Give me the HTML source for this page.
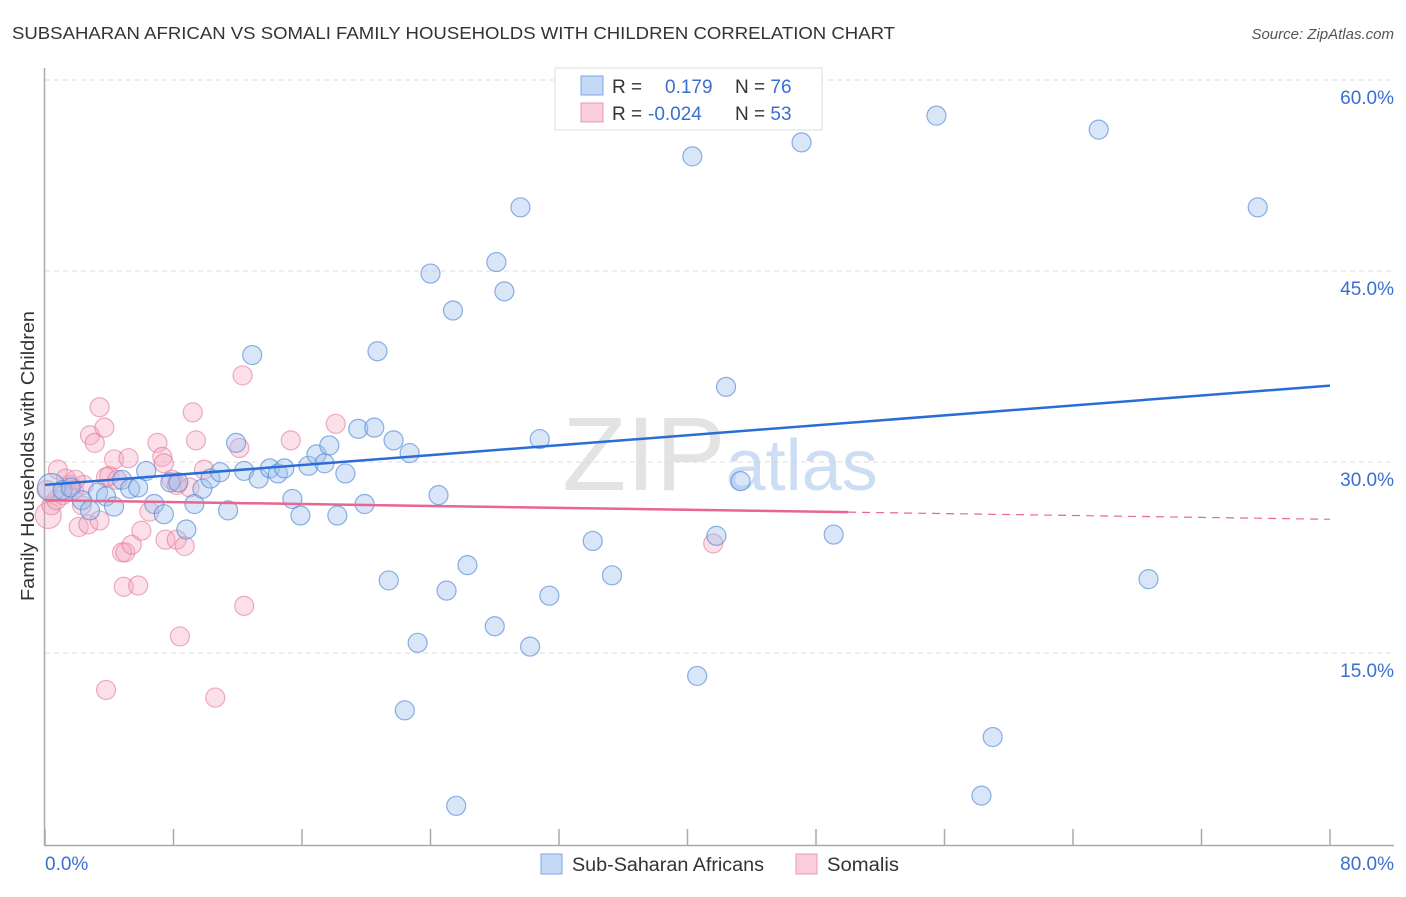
<!DOCTYPE html>
<html><head><meta charset="utf-8"><style>
body{margin:0;background:#fff;font-family:"Liberation Sans",sans-serif;}
svg text{font-family:"Liberation Sans",sans-serif;}
</style></head><body>
<svg id="chart" width="1406" height="892" xmlns="http://www.w3.org/2000/svg">
<text x="12" y="39" font-size="17.5" fill="#333" textLength="883" lengthAdjust="spacingAndGlyphs">SUBSAHARAN AFRICAN VS SOMALI FAMILY HOUSEHOLDS WITH CHILDREN CORRELATION CHART</text>
<text x="1394" y="39" font-size="15" fill="#555" text-anchor="end" font-style="italic">Source: ZipAtlas.com</text>
<g id="grid"></g>
<text x="720" y="490" font-size="105" text-anchor="middle" fill="#d8d8d8" font-family="Liberation Serif" opacity="0.7">ZIP<tspan fill="#b8cff0" font-family="Liberation Sans" font-size="72">atlas</tspan></text>
<line x1="44.5" y1="68" x2="44.5" y2="845" stroke="#aaa" stroke-width="1.5"/>
<line x1="44" y1="845.5" x2="1394" y2="845.5" stroke="#aaa" stroke-width="1.5"/>
<text transform="translate(34,456) rotate(-90)" font-size="18" fill="#333" text-anchor="middle" textLength="290" lengthAdjust="spacingAndGlyphs">Family Households with Children</text>
<text x="45" y="870" font-size="19" fill="#3a6fd0">0.0%</text>
<text x="1394" y="870" font-size="19" fill="#3a6fd0" text-anchor="end">80.0%</text>
<g id="pts"></g>
<g id="trends"></g>
<g>
<rect x="555" y="68" width="267" height="62" fill="#fff" stroke="#ddd"/>
<rect x="581" y="76" width="22" height="19" fill="#c5d9f5" stroke="#7aa5e6"/>
<rect x="581" y="103" width="22" height="19" fill="#f9cddb" stroke="#ea9ab4"/>
<text x="612" y="93" font-size="19" fill="#333">R = <tspan fill="#3a6fd0" x="665">0.179</tspan><tspan x="735" fill="#333">N = </tspan><tspan fill="#3a6fd0">76</tspan></text>
<text x="612" y="120" font-size="19" fill="#333">R = <tspan fill="#3a6fd0" x="648">-0.024</tspan><tspan x="735" fill="#333">N = </tspan><tspan fill="#3a6fd0">53</tspan></text>
</g>
<g>
<rect x="541" y="854" width="21" height="20" fill="#c5d9f5" stroke="#7aa5e6"/>
<text x="572" y="871" font-size="19" fill="#333" textLength="192" lengthAdjust="spacingAndGlyphs">Sub-Saharan Africans</text>
<rect x="796" y="854" width="21" height="20" fill="#f9cddb" stroke="#ea9ab4"/>
<text x="827" y="871" font-size="19" fill="#333" textLength="72" lengthAdjust="spacingAndGlyphs">Somalis</text>
</g>
</svg>
<script>
const yTicks=[15,30,45,60];
const yTickLabels=["15.0%","30.0%","45.0%","60.0%"];
const xTicks=[0,8,16,24,32,40,48,56,64,72,80];
const blueX=[0.4,1.1,1.6,2.3,2.8,3.3,3.8,4.3,4.8,5.3,5.8,6.3,6.8,7.4,7.8,8.3,8.8,9.3,9.8,10.3,10.9,11.4,11.9,12.4,12.9,13.3,14.0,14.5,14.9,15.4,15.9,16.4,16.9,17.4,17.7,18.2,18.7,19.5,19.9,20.5,20.7,21.4,21.7,22.4,22.7,23.2,24.0,24.5,25.0,25.4,25.6,26.3,28.0,28.1,28.6,29.6,30.2,30.8,31.4,34.1,35.3,40.3,40.6,41.8,42.4,43.3,47.1,49.1,55.5,58.3,59.0,65.6,68.7,75.5];
const blueY=[28.0,27.8,28.0,27.0,26.2,27.6,27.3,26.5,28.6,27.9,28.0,29.3,26.7,25.9,28.4,28.4,24.7,26.7,27.9,28.7,29.2,26.2,31.5,29.3,38.4,28.7,29.5,29.1,29.5,27.1,25.8,29.7,30.6,29.9,31.3,25.8,29.1,32.6,26.7,32.7,38.7,20.7,31.7,10.5,30.7,15.8,44.8,27.4,19.9,41.9,3.0,21.9,17.1,45.7,43.4,50.0,15.5,31.8,19.5,23.8,21.1,54.0,13.2,24.2,35.9,28.5,55.1,24.3,57.2,3.8,8.4,56.1,20.8,50.0];
const pinkX=[0.2,0.4,0.8,1.1,1.3,1.6,1.8,2.1,2.3,2.7,2.8,3.1,3.4,3.7,3.8,4.0,4.3,4.5,4.8,5.0,5.2,5.4,4.9,5.8,6.0,6.5,7.0,7.3,7.4,7.5,7.9,8.2,8.4,8.7,9.0,9.2,9.4,9.9,10.6,12.1,12.3,12.4,15.3,18.1,3.8,41.6,8.2,2.4,3.4,0.7,1.9,0.1,33.6];
const pinkY=[25.8,26.6,29.4,27.4,28.7,28.2,27.8,24.9,26.6,25.1,32.1,31.5,34.3,32.7,28.8,28.9,30.2,28.6,22.9,22.9,30.3,23.5,20.2,20.3,24.6,26.1,31.5,30.4,29.9,23.9,28.6,23.9,16.3,23.4,28.0,33.9,31.7,29.4,11.5,31.1,36.8,18.7,31.7,33.0,12.1,23.6,28.2,28.2,25.4,27.0,28.6,27.8,58.5];
const blueTrend=[28.2,36.0];
const pinkTrend=[27.0,25.5];
const pinkSolidEnd=50;
const X=v=>45+v*(1285/80), Y=v=>844-v*(191/15);
const NS="http://www.w3.org/2000/svg";
const grid=document.getElementById('grid'),pts=document.getElementById('pts'),tr=document.getElementById('trends');
function mk(tag,a,p){const e=document.createElementNS(NS,tag);for(const k in a)e.setAttribute(k,a[k]);p.appendChild(e);return e;}
yTicks.forEach((t,i)=>{
 const l=mk('line',{x1:45,x2:1394,y1:Y(t),y2:Y(t),stroke:'#ddd','stroke-dasharray':'5,4'},grid);
 
 
 const tx=mk('text',{x:1394,y:Y(t)+24,'font-size':19,fill:'#3a6fd0','text-anchor':'end'},grid);
 tx.textContent=yTickLabels[i];
 
 
});
xTicks.forEach(t=>{
 const l=mk('line',{x1:X(t),x2:X(t),y1:829,y2:845,stroke:'#aaa','stroke-width':1.5},grid);
 
 
});
function dots(xs,ys,fill,stroke,name,bigR){
 xs.forEach((x,i)=>{
  const c=mk('circle',{cx:X(x),cy:Y(ys[i]),r:i===0?bigR:9.5,fill:fill,stroke:stroke,'stroke-width':1.2},pts);
  
  
 });
}
dots(pinkX,pinkY,'rgba(244,165,192,0.35)','rgba(228,120,155,0.6)','somali-point',13);
dots(blueX,blueY,'rgba(160,192,238,0.4)','rgba(80,135,215,0.65)','subsaharan-point',14);
const b=mk('line',{x1:X(0),y1:Y(blueTrend[0]),x2:X(80),y2:Y(blueTrend[1]),stroke:'#2a6dd6','stroke-width':2.5},tr);


const pm=pinkTrend[0]+(pinkTrend[1]-pinkTrend[0])*pinkSolidEnd/80;
const p1=mk('line',{x1:X(0),y1:Y(pinkTrend[0]),x2:X(pinkSolidEnd),y2:Y(pm),stroke:'#e8668f','stroke-width':2.5},tr);


const p2=mk('line',{x1:X(pinkSolidEnd),y1:Y(pm),x2:X(80),y2:Y(pinkTrend[1]),stroke:'#e8668f','stroke-width':1.2,'stroke-dasharray':'8,6'},tr);


</script>
</body></html>
